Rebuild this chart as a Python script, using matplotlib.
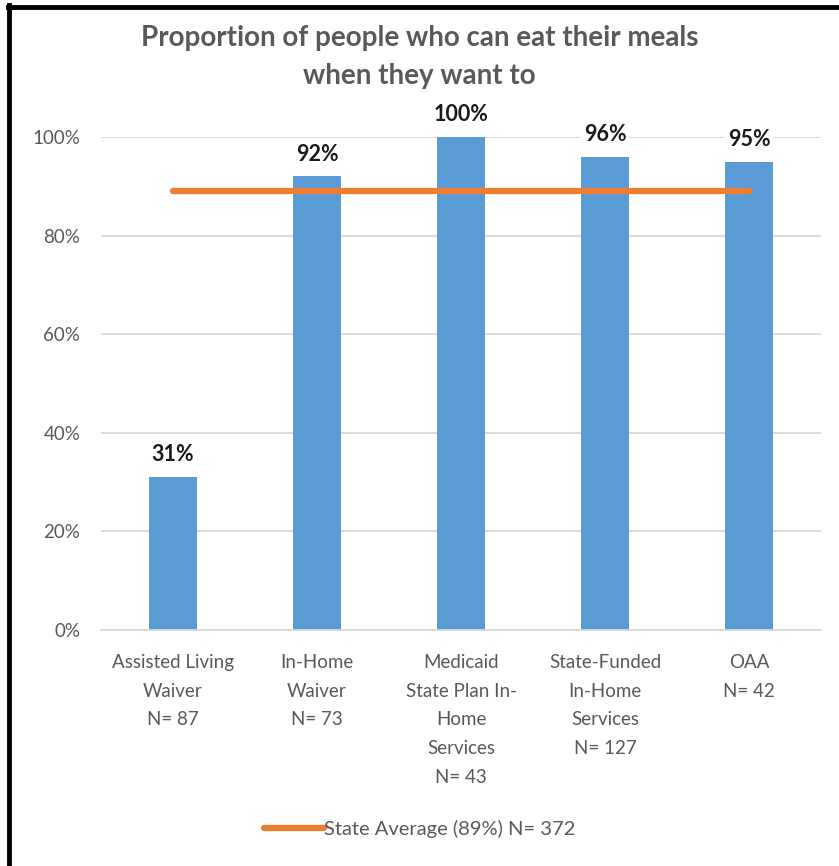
import matplotlib.pyplot as plt
from matplotlib.lines import Line2D

plt.rcParams["font.family"] = ["Lato", "DejaVu Sans"]

categories = [
    "Assisted Living\nWaiver\nN= 87",
    "In-Home\nWaiver\nN= 73",
    "Medicaid\nState Plan In-\nHome\nServices\nN= 43",
    "State-Funded\nIn-Home\nServices\nN= 127",
    "OAA\nN= 42",
]
values = [31, 92, 100, 96, 95]
state_average = 89
legend_label = "State Average (89%) N= 372"

bar_color = "#5B9BD5"
line_color = "#ED7D31"
text_gray = "#595959"

fig = plt.figure(figsize=(8.39, 8.66), dpi=100)
ax = fig.add_axes([101 / 839, 1 - 630 / 866, 720 / 839, 493 / 866])

x = list(range(len(categories)))
ax.bar(x, values, width=0.33, color=bar_color, zorder=2)
ax.plot(x, [state_average] * len(x), color=line_color, linewidth=4.5,
        solid_capstyle="round", zorder=4)

for xi, v in zip(x, values):
    ax.text(xi, v + 2.4, f"{v}%", ha="center", va="bottom", fontsize=15.5,
            fontweight="bold", color="#1a1a1a", zorder=3,
            bbox=dict(facecolor="white", edgecolor="none", pad=2))

ax.set_xlim(-0.5, len(categories) - 0.5)
ax.set_ylim(0, 100)
ax.set_yticks(range(0, 101, 20))
ax.set_yticklabels([f"{t}%" for t in range(0, 101, 20)])
ax.set_xticks(x)
ax.set_xticklabels(categories, linespacing=1.85)
ax.tick_params(axis="both", length=0, labelsize=13.5, labelcolor=text_gray)
ax.tick_params(axis="y", pad=15)
ax.tick_params(axis="x", pad=17)
ax.yaxis.grid(True, color="#d9d9d9", linewidth=1.3, zorder=0)
ax.set_axisbelow(True)
for side in ["top", "right", "left"]:
    ax.spines[side].set_visible(False)
ax.spines["bottom"].set_color("#d9d9d9")
ax.spines["bottom"].set_linewidth(1.3)

fig.text(0.5, 1 - 57 / 866,
         "Proportion of people who can eat their meals\nwhen they want to",
         ha="center", va="center", fontsize=20, fontweight="bold",
         color=text_gray, linespacing=1.55)

handle = Line2D([], [], color=line_color, linewidth=4.5, solid_capstyle="round")
fig.legend([handle], [legend_label], loc="center",
           bbox_to_anchor=(0.5, 1 - 829 / 866), frameon=False, fontsize=14.5,
           handlelength=3.0, handletextpad=0.0, labelcolor=text_gray)

# frame edges along the top and left
fig.add_artist(Line2D([8 / 839, 1], [1 - 6.5 / 866, 1 - 6.5 / 866],
                      color="black", linewidth=3.5, transform=fig.transFigure))
fig.add_artist(Line2D([8.5 / 839, 8.5 / 839], [0, 1 - 5 / 866],
                      color="black", linewidth=3.5, transform=fig.transFigure))

fig.savefig("out.png", dpi=100, facecolor="white")
